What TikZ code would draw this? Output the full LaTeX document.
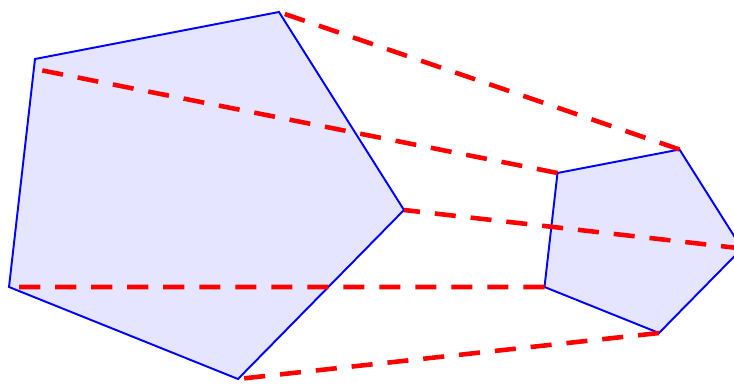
\documentclass[tikz,border=0pt]{standalone}
\usetikzlibrary{calc}

\begin{document}
\begin{tikzpicture}[x=0.02cm, y=-0.02cm,
    pentagon/.style={draw=blue, fill=blue!10, line width=1.1pt, line join=miter},
    ray/.style={draw=red, line width=2.6pt, dash pattern=on 12pt off 8.5pt}]
  \useasboundingbox (0,0) rectangle (734,385);
  \clip (0,0) rectangle (734,385);

  % centre of the scaling and the large pentagon
  \coordinate (ctr) at (1080,287);
  \coordinate (a1) at (35,59);
  \coordinate (a2) at (279,12);
  \coordinate (a3) at (404,210);
  \coordinate (a4) at (238,379);
  \coordinate (a5) at (9,287);

  % small pentagon = half-size image
  \foreach \i in {1,...,5}
    \coordinate (b\i) at ($(ctr)!0.5!(a\i)$);

  % far end of the upper left ray sits a bit under its corner
  \coordinate (e1) at (35,69);

  \fill[pentagon] (a1) -- (a2) -- (a3) -- (a4) -- (a5) -- cycle;
  \fill[pentagon] (b1) -- (b2) -- (b3) -- (b4) -- (b5) -- cycle;

  % dashed lines between matching corners
  \foreach \i/\e in {1/e1,2/a2,3/a3,4/a4,5/a5}
    \draw[ray] (b\i) -- (\e);
\end{tikzpicture}
\end{document}
